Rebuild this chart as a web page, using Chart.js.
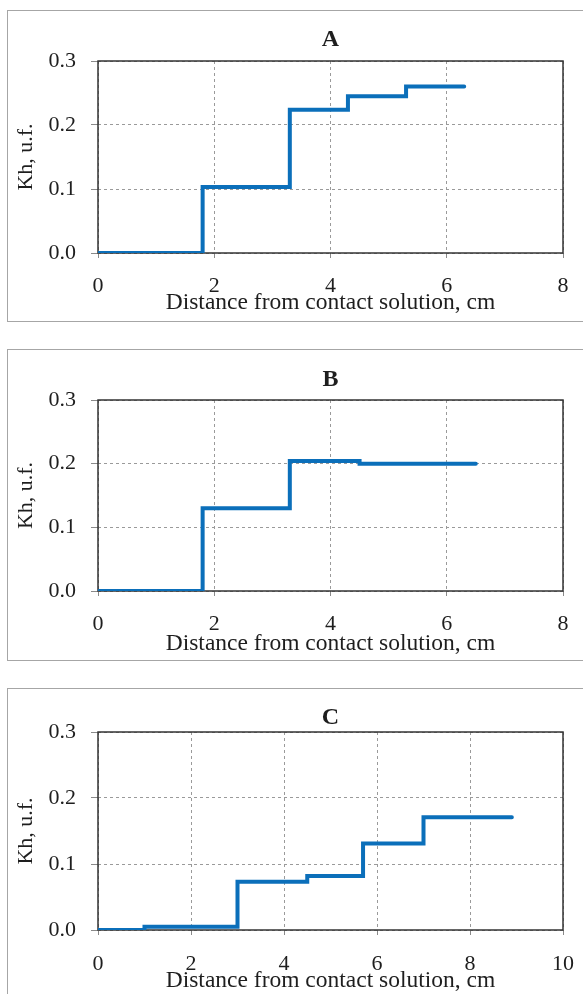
<!DOCTYPE html>
<html>
<head>
<meta charset="utf-8">
<script src="https://cdn.jsdelivr.net/npm/chart.js@4.4.1/dist/chart.umd.min.js"></script>
<style>
  html, body { margin: 0; padding: 0; background: #fff; overflow: hidden; }
  body { position: relative; width: 583px; height: 994px; }
  .frame { position: absolute; left: 7px; width: 700px; box-sizing: border-box; border: 1px solid #a6a6a6; }
  canvas { position: absolute; left: 0; }
</style>
</head>
<body>
<div class="frame" style="top:10px;height:312px"></div>
<div class="frame" style="top:349px;height:312px"></div>
<div class="frame" style="top:688px;height:400px"></div>
<canvas id="chartA" width="583" height="311" style="top:10px"></canvas>
<canvas id="chartB" width="583" height="311" style="top:349px"></canvas>
<canvas id="chartC" width="583" height="306" style="top:688px"></canvas>
<script>
// step profiles: Kh holds from each distance until the next one
const distanceA = [0, 1.8, 3.3, 4.3, 5.3, 6.3];
const khA = [0, 0.103, 0.224, 0.245, 0.26, 0.26];

const distanceB = [0, 1.8, 3.3, 4.5, 6.5];
const khB = [0, 0.13, 0.204, 0.2, 0.2];

const distanceC = [0, 1.0, 3.0, 4.5, 5.7, 7.0, 8.9];
const khC = [0, 0.005, 0.073, 0.082, 0.131, 0.171, 0.171];

const xMaxA = 8, xMaxB = 8, xMaxC = 10;
const yTicks = [0, 0.1, 0.2, 0.3];

const FONT = "'Liberation Serif', 'Times New Roman', serif";
const TEXT = "#1e1e1e";
const LINE = "#0b6fba";

// box around the plotting area
const plotBorder = {
  id: "plotBorder",
  beforeDatasetsDraw(chart) {
    const { ctx, chartArea: a } = chart;
    ctx.save();
    ctx.strokeStyle = "#333";
    ctx.lineWidth = 1.5;
    ctx.strokeRect(a.left, a.top, a.right - a.left, a.bottom - a.top);
    ctx.restore();
  },
};

function makeChart(id, label, xs, ys, xMax, lay) {
  const points = xs.map((x, i) => ({ x, y: ys[i] }));
  return new Chart(document.getElementById(id), {
    type: "scatter",
    data: {
      datasets: [{
        data: points,
        showLine: true,
        stepped: "before",
        borderColor: LINE,
        borderWidth: 4,
        borderCapStyle: "round",
        borderJoinStyle: "miter",
        pointRadius: 0,
        fill: false,
      }],
    },
    options: {
      responsive: false,
      animation: false,
      layout: { padding: { left: 0, right: 20, top: 0, bottom: 0 } },
      plugins: {
        legend: { display: false },
        tooltip: { enabled: false },
        title: {
          display: true,
          text: label,
          fullSize: false,
          color: TEXT,
          font: { family: FONT, size: 24, weight: "bold", lineHeight: 1 },
          padding: { top: lay.titleTop, bottom: lay.titleBottom },
        },
      },
      scales: {
        x: {
          type: "linear",
          min: 0,
          max: xMax,
          afterFit: (s) => {
            s.height = lay.xAxisH;
            s.paddingLeft = 0;
            s.paddingRight = 0;
          },
          ticks: { stepSize: 2, padding: lay.xTickPad, color: TEXT, font: { family: FONT, size: 22, lineHeight: 1 } },
          grid: { color: "#9a9a9a", lineWidth: 1, tickLength: 5, tickColor: "#8a8a8a", tickBorderDash: [] },
          border: { display: false, dash: [3, 3] },
          title: {
            display: true,
            text: "Distance from contact solution, cm",
            color: TEXT,
            font: { family: FONT, size: 23.5, lineHeight: 1 },
            padding: { top: 0, bottom: lay.xTitleBottom },
          },
        },
        y: {
          type: "linear",
          min: 0,
          max: 0.3,
          afterFit: (s) => { s.width = 98; },
          afterBuildTicks: (s) => { s.ticks = yTicks.map((v) => ({ value: v })); },
          ticks: { padding: 15, color: TEXT, font: { family: FONT, size: 22, lineHeight: 1 }, callback: (v) => Number(v).toFixed(1) },
          grid: { color: "#9a9a9a", lineWidth: 1, tickLength: 7, tickColor: "#8a8a8a", tickBorderDash: [] },
          border: { display: false, dash: [3, 3] },
          title: {
            display: true,
            text: "Kh, u.f.",
            color: TEXT,
            font: { family: FONT, size: 22, lineHeight: 1 },
            padding: { top: 15, bottom: 0 },
          },
        },
      },
    },
    plugins: [plotBorder],
  });
}

makeChart("chartA", "A", distanceA, khA, xMaxA, { titleTop: 18, titleBottom: 9, xAxisH: 68, xTickPad: 17, xTitleBottom: 6 });
makeChart("chartB", "B", distanceB, khB, xMaxB, { titleTop: 19, titleBottom: 8, xAxisH: 69, xTickPad: 17, xTitleBottom: 4 });
makeChart("chartC", "C", distanceC, khC, xMaxC, { titleTop: 18, titleBottom: 2, xAxisH: 64, xTickPad: 18, xTitleBottom: 1 });
</script>
</body>
</html>
